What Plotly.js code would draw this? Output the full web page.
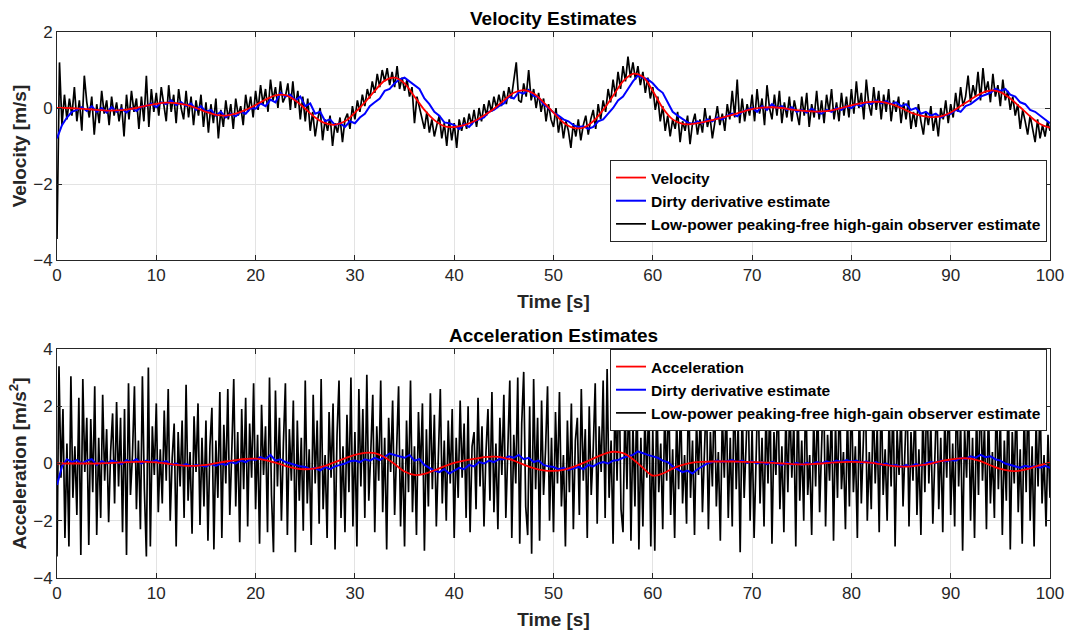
<!DOCTYPE html>
<html>
<head>
<meta charset="utf-8">
<script src="https://cdn.plot.ly/plotly-3.0.1.min.js"></script>
<style>html,body{margin:0;padding:0;background:#fff;}#chart{width:1070px;height:635px;}</style>
</head>
<body>
<div id="chart"></div>
<script>
// ---------- DATA ----------
// time steps (s)
const tStart = 0, tEnd = 100;
const dtRed = 1.0, dtBlue = 0.5, dtBlackVel = 0.25, dtBlackAcc = 0.2;

// true velocity (red), every 1 s
const velocityTrue = [0,0,-0.01,-0.03,-0.05,-0.07,-0.06,-0.04,0.0,0.06,0.11,0.14,0.13,0.08,0.0,-0.1,-0.18,-0.2,-0.15,-0.05,
  0.08,0.22,0.33,0.34,0.2,-0.02,-0.25,-0.4,-0.44,-0.35,-0.12,0.15,0.45,0.72,0.8,0.65,0.3,-0.05,-0.32,-0.48,
  -0.5,-0.45,-0.35,-0.2,-0.02,0.2,0.4,0.47,0.38,0.15,-0.12,-0.38,-0.52,-0.52,-0.35,-0.05,0.32,0.7,0.9,0.82,
  0.45,0.0,-0.3,-0.42,-0.42,-0.38,-0.32,-0.25,-0.18,-0.1,-0.03,0.01,0.02,0.0,-0.04,-0.07,-0.09,-0.09,-0.06,0.0,
  0.07,0.13,0.16,0.16,0.1,0.0,-0.12,-0.2,-0.24,-0.22,-0.12,0.05,0.22,0.38,0.46,0.42,0.25,0.02,-0.22,-0.42,-0.52];

// dirty derivative velocity estimate (blue), every 0.5 s
const velocityDirty = [
  -0.8,-0.45,-0.25,-0.1,-0.05,0.02,-0.08,0.05,-0.1,0.0,
  -0.12,0.02,-0.1,-0.02,-0.12,0.0,-0.08,0.04,0.05,0.12,
  0.02,0.15,0.1,0.2,0.08,0.15,0.05,0.12,-0.05,0.05,
  -0.1,-0.05,-0.2,-0.1,-0.25,-0.15,-0.22,-0.1,-0.15,0.0,
  -0.02,0.12,0.05,0.22,0.15,0.4,0.3,0.35,0.2,0.3,
  0.05,0.12,-0.15,-0.1,-0.35,-0.3,-0.45,-0.4,-0.5,-0.35,
  -0.4,-0.25,-0.15,0.05,0.15,0.25,0.45,0.5,0.65,0.75,
  0.8,0.7,0.6,0.5,0.25,0.1,-0.1,-0.2,-0.38,-0.4,
  -0.45,-0.55,-0.42,-0.5,-0.35,-0.3,-0.25,-0.1,-0.05,0.05,
  0.12,0.3,0.25,0.42,0.38,0.48,0.32,0.28,0.1,0.0,
  -0.12,-0.2,-0.3,-0.35,-0.45,-0.5,-0.48,-0.55,-0.5,-0.35,
  -0.3,-0.15,0.0,0.2,0.3,0.5,0.7,0.85,0.8,0.75,
  0.65,0.5,0.4,0.15,-0.1,-0.2,-0.3,-0.38,-0.42,-0.35,
  -0.4,-0.3,-0.35,-0.25,-0.3,-0.2,-0.15,-0.22,-0.1,-0.05,
  0.0,-0.1,0.05,-0.05,0.1,0.0,0.05,-0.05,0.02,-0.1,
  -0.05,-0.12,-0.02,-0.1,-0.15,-0.05,-0.1,0.0,-0.05,0.05,
  0.0,0.1,0.05,0.15,0.1,0.2,0.12,0.18,0.1,0.15,
  0.05,0.1,-0.05,0.0,-0.15,-0.1,-0.2,-0.15,-0.25,-0.18,
  -0.15,-0.05,-0.1,0.05,0.1,0.2,0.3,0.35,0.4,0.5,
  0.45,0.5,0.35,0.3,0.15,0.1,-0.05,-0.1,-0.2,-0.3,
  -0.4];

// high-gain observer velocity estimate (black), every 0.25 s
const velocityHGO = [
  -3.45,1.2,-0.45,0.35,-0.3,0.25,-0.2,0.55,-0.35,0.2,-0.6,0.85,0.15,-0.25,0.3,-0.7,0.1,-0.4,0.45,-0.15,
  0.2,-0.45,0.3,-0.2,0.15,-0.35,0.1,-0.75,0.35,-0.3,0.45,-0.1,0.25,-0.55,0.3,-0.35,0.85,-0.5,0.5,-0.1,
  0.4,-0.2,0.55,0.05,-0.35,0.6,-0.1,0.35,-0.4,0.5,0.0,-0.3,0.45,-0.25,0.3,-0.45,0.2,-0.2,0.35,-0.5,
  0.15,-0.65,0.1,-0.4,0.25,-0.8,-0.05,-0.5,0.2,-0.3,0.1,-0.55,0.25,-0.2,0.05,-0.45,0.35,-0.1,0.3,-0.25,
  0.45,-0.05,0.6,0.1,0.5,-0.1,0.75,0.2,0.55,0.0,0.7,0.15,0.3,0.65,-0.05,0.7,0.0,0.45,-0.3,0.3,
  -0.35,0.25,-0.6,-0.1,-0.75,-0.3,0.0,-0.85,-0.3,-0.6,-0.2,-1.0,-0.4,-0.65,-0.25,-0.9,-0.3,-0.15,-0.55,0.05,
  -0.3,0.2,-0.1,0.35,0.05,0.5,0.25,0.7,0.4,0.9,0.55,1.0,0.7,1.05,0.6,0.95,0.55,1.1,0.5,0.8,
  0.45,0.75,0.3,0.55,-0.4,0.3,0.0,-0.25,-0.55,-0.1,-0.65,-0.3,-0.75,-0.45,-0.2,-0.8,-0.4,-1.0,-0.3,-0.85,
  -0.4,-1.05,-0.3,-0.6,-0.25,-0.55,-0.15,-0.45,-0.05,-0.5,0.0,-0.35,0.1,-0.2,0.2,-0.1,0.3,0.0,0.35,0.05,
  0.45,0.1,0.55,0.25,0.7,1.2,0.2,0.15,0.65,0.3,1.0,0.2,0.5,0.0,0.4,-0.1,0.25,-0.35,0.1,-0.3,
  -0.5,0.0,-0.65,-0.25,-0.8,-0.35,-0.6,-1.05,-0.4,-0.75,-0.3,-0.85,-0.45,-0.2,-0.7,-0.3,-0.05,-0.55,0.1,-0.3,
  0.2,-0.1,0.5,0.15,0.75,0.3,0.95,0.5,1.1,0.7,1.35,0.8,1.2,0.75,1.1,0.6,0.95,0.4,0.8,0.25,
  0.55,-0.05,0.3,-0.35,0.05,-0.6,-0.2,-0.75,-0.3,-0.55,-0.1,-0.9,-0.35,-0.6,-0.2,-0.95,-0.4,-0.15,-0.7,-0.3,
  -0.65,0.0,-0.5,-0.2,-0.8,-0.35,0.05,-0.45,-0.15,-0.6,0.1,-0.3,0.45,-0.25,0.75,-0.4,0.25,-0.35,0.1,-0.2,
  0.35,-0.35,0.5,-0.15,0.25,-0.45,0.6,0.0,-0.3,0.35,-0.2,0.45,-0.4,0.15,-0.25,0.3,-0.35,0.2,-0.1,-0.45,
  0.3,-0.2,0.4,-0.5,0.1,-0.25,0.45,-0.3,0.2,-0.4,0.35,-0.1,0.5,-0.3,0.15,-0.35,0.4,-0.2,0.3,-0.25,
  0.5,-0.15,0.7,0.0,0.4,-0.3,0.75,0.1,-0.2,0.55,-0.05,0.45,-0.3,0.35,-0.1,0.5,-0.35,0.2,-0.1,0.3,
  -0.4,0.15,-0.3,0.2,-0.55,-0.1,-0.5,0.1,-0.35,-0.7,-0.1,-0.45,0.05,-0.6,-0.2,-0.75,0.0,-0.3,0.2,-0.4,
  0.1,-0.25,0.4,-0.1,0.55,0.05,0.3,0.85,0.15,0.6,0.3,0.95,0.2,1.05,0.4,0.7,0.15,0.9,0.3,0.6,
  0.05,0.75,0.2,0.45,-0.05,0.3,-0.2,0.1,-0.55,-0.05,-0.35,-0.7,-0.2,-0.55,-0.9,-0.3,-0.8,-0.45,-0.75,-0.35,
  -0.6];

// true acceleration (red), every 1 s
const accelTrue = [0,0,0,0,0,0.01,0.03,0.05,0.06,0.06,0.04,0.0,-0.05,-0.08,-0.08,-0.05,0.01,0.07,0.12,0.16,
  0.17,0.12,0.03,-0.08,-0.17,-0.2,-0.17,-0.08,0.05,0.18,0.3,0.37,0.36,0.22,-0.02,-0.28,-0.4,-0.36,-0.24,-0.1,
  0.02,0.1,0.16,0.22,0.24,0.2,0.1,-0.04,-0.16,-0.24,-0.26,-0.22,-0.12,0.02,0.17,0.32,0.41,0.36,0.15,-0.15,
  -0.42,-0.35,-0.18,-0.05,0.03,0.06,0.07,0.07,0.07,0.06,0.05,0.04,0.02,0.0,-0.02,-0.03,-0.02,0.0,0.03,0.05,
  0.06,0.05,0.02,-0.03,-0.08,-0.11,-0.1,-0.06,0.0,0.08,0.14,0.18,0.17,0.08,-0.06,-0.19,-0.26,-0.25,-0.17,-0.06,0.03];

// dirty derivative acceleration estimate (blue), every 0.5 s
const accelDirty = [
  -0.75,-0.1,0.15,0.05,0.12,0.0,0.1,0.15,-0.05,0.08,
  0.0,0.1,0.05,-0.02,0.12,0.05,0.15,0.0,0.1,0.05,
  0.12,0.02,0.08,-0.05,0.0,-0.08,-0.02,-0.1,-0.05,-0.08,
  -0.1,-0.02,-0.08,0.0,-0.05,0.05,0.0,0.1,0.05,0.15,
  0.12,0.22,0.15,0.3,0.1,0.15,0.05,0.0,-0.05,-0.1,
  -0.12,-0.2,-0.15,-0.25,-0.12,-0.2,-0.1,-0.05,0.0,0.08,
  0.1,0.05,0.15,0.1,0.2,0.12,0.25,0.35,0.3,0.25,
  0.2,0.3,0.1,0.15,-0.05,-0.15,-0.25,-0.3,-0.2,-0.35,
  -0.25,-0.15,-0.2,-0.05,-0.1,0.05,0.0,0.1,0.05,0.15,
  0.15,0.25,0.2,0.3,0.15,0.2,0.05,0.1,-0.05,-0.1,
  -0.12,-0.2,-0.15,-0.22,-0.18,-0.12,-0.2,-0.05,-0.1,0.0,
  0.05,0.0,0.1,0.12,0.2,0.25,0.3,0.42,0.35,0.3,
  0.25,0.2,0.1,0.05,-0.1,-0.2,-0.3,-0.25,-0.35,-0.2,
  -0.1,0.0,0.05,0.1,0.05,0.08,0.12,0.05,0.1,0.02,
  0.08,0.0,0.05,-0.02,0.06,0.0,-0.05,0.03,-0.04,0.02,
  -0.05,0.02,-0.03,0.05,0.0,0.08,0.02,0.1,0.05,0.12,
  0.06,0.1,0.02,0.08,0.0,0.05,-0.05,0.0,-0.08,-0.05,
  -0.12,-0.05,-0.1,-0.02,-0.08,0.0,0.05,0.02,0.1,0.08,
  0.12,0.1,0.2,0.15,0.25,0.2,0.3,0.22,0.25,0.15,
  0.1,0.0,-0.05,-0.1,-0.15,-0.08,-0.12,-0.1,-0.15,-0.08,
  -0.15];

// high-gain observer acceleration estimate (black), every 0.2 s
const accelHGO = [
  -3.25,3.4,-0.5,1.9,-2.6,0.7,-2.9,3.05,-1.2,0.6,-1.8,2.3,-3.2,2.95,-0.3,1.6,-2.85,1.55,-1.0,2.7,-2.5,0.9,-1.9,2.4,-0.6,
  1.2,-2.05,0.4,1.75,-1.4,2.15,-0.8,1.6,-2.4,1.9,-3.2,2.8,-1.1,0.3,2.7,-1.6,0.8,-2.3,3.05,-0.9,-3.25,3.35,-2.9,1.3,-0.4,
  2.1,-1.7,0.5,-1.4,1.85,-0.6,2.6,-2.0,0.2,1.4,-2.9,1.1,-0.8,1.5,-1.9,2.75,-1.3,0.4,-2.45,1.65,-0.3,2.1,-2.15,0.9,-1.5,
  1.5,-2.7,0.6,1.95,-3.0,0.8,-1.2,2.5,-2.6,1.35,-0.7,2.6,-1.8,0.4,2.95,-1.5,1.1,-2.75,1.9,-0.9,2.3,-2.2,1.4,-0.5,2.8,
  -1.6,1.0,-2.8,2.05,-0.4,1.3,-2.4,3.0,-1.1,-3.1,2.55,-0.8,1.6,-2.0,0.7,2.8,-2.5,1.2,-0.6,2.2,-3.1,1.5,-1.3,0.9,-2.35,
  2.9,-1.4,0.5,-2.85,2.4,-0.7,1.5,-2.1,2.95,-1.6,0.3,-2.6,1.8,-0.5,2.1,-3.0,1.0,2.9,-1.9,0.6,-2.4,1.7,-1.0,3.0,-2.2,
  1.1,-2.9,2.6,-0.8,1.9,-1.9,3.1,-1.3,0.4,2.4,-2.4,1.3,-0.6,2.9,-1.7,0.9,-3.0,1.6,-0.3,2.2,-1.8,0.8,2.7,-2.2,0.5,
  -2.9,1.5,-1.0,2.9,-1.7,0.6,-2.5,1.8,-0.4,2.1,-3.05,1.2,-1.5,2.45,-0.9,1.7,-2.2,0.3,2.6,-1.4,0.8,-2.0,1.5,-0.7,1.9,
  -2.6,0.9,-1.2,2.2,-0.5,1.4,-1.9,2.0,-2.4,0.6,1.1,-1.6,2.3,-0.8,1.3,-2.2,0.4,1.9,-1.3,2.5,-1.7,0.7,-2.3,1.6,-0.4,
  2.4,-1.9,0.6,2.9,-2.6,1.0,-0.7,3.0,-2.8,1.4,3.2,-1.5,-2.5,2.0,-3.15,2.95,-0.9,1.6,-2.7,2.2,-1.1,0.5,2.7,-2.0,0.9,
  -2.4,1.8,-0.7,2.5,-1.5,0.3,-2.9,1.5,-1.0,2.1,-2.3,0.8,1.6,-1.8,2.6,-0.6,1.2,-2.6,2.0,-1.1,0.5,2.8,-2.1,1.3,-0.3,
  2.9,-1.9,3.3,-1.2,0.8,-2.8,2.7,-0.6,3.2,-1.6,-2.4,2.1,-0.9,3.0,-2.7,1.4,-1.5,2.6,-3.0,0.9,-2.2,1.7,-0.5,2.3,-2.9,
  1.2,-3.05,2.4,-1.0,0.7,-2.3,1.9,-0.6,2.7,-1.8,0.5,-2.6,1.6,-0.9,2.2,-1.4,0.3,-2.1,2.9,-1.2,0.8,-2.5,1.5,-0.4,2.0,
  -1.7,0.6,2.5,-2.3,1.1,-0.8,2.8,-1.5,0.4,-2.7,1.7,-0.5,2.3,-1.9,0.9,-2.2,3.0,-0.9,1.4,-3.1,2.1,-1.2,0.6,2.6,-2.0,
  1.3,-2.6,0.5,2.9,-1.4,0.9,-2.2,1.9,-0.7,2.4,-2.8,1.1,-0.4,2.7,-1.6,0.6,-2.4,1.8,-1.0,2.2,-0.5,1.5,-2.9,2.5,-1.3,
  0.8,-2.0,2.8,-1.1,0.3,-2.5,1.6,-0.8,2.3,-1.7,0.7,2.9,-2.2,1.0,-0.6,2.0,-2.7,1.4,-1.2,2.6,-0.9,0.4,-2.3,1.8,-1.5,
  2.7,-1.0,0.6,-2.6,2.1,-1.4,0.9,2.9,-2.0,0.4,-1.6,2.4,-0.7,1.3,-2.4,2.8,-1.1,0.5,-2.0,1.7,-0.8,2.5,-2.9,1.2,-0.4,
  2.0,-1.5,0.8,2.6,-2.2,1.1,-0.6,2.3,-1.8,0.5,-2.5,1.9,-1.0,2.8,-0.7,1.4,-2.1,0.6,2.4,-1.6,0.9,-2.4,1.6,-0.5,2.7,
  -1.8,0.7,-2.2,3.0,-0.8,1.5,-3.05,1.2,-0.5,2.5,-2.0,0.9,-2.6,1.8,-1.1,2.9,-0.6,1.3,-2.3,2.1,-1.4,0.4,-1.9,2.6,-0.9,
  1.6,-2.5,0.8,-1.3,2.7,-3.0,1.1,-0.7,2.4,-1.7,0.5,-2.8,1.9,-1.0,2.8,-2.0,0.6,-2.9,1.5,-0.8,2.3,-1.4,0.3,-2.2,1.0,
  -1.2];

const seriesNames = ['Velocity','Dirty derivative estimate','Low-power peaking-free high-gain observer estimate'];
const seriesNames2 = ['Acceleration','Dirty derivative estimate','Low-power peaking-free high-gain observer estimate'];
const xTicks = [0,10,20,30,40,50,60,70,80,90,100];

// ---------- helpers ----------
function timeGrid(n, dt){ const a=[]; for(let i=0;i<n;i++) a.push(+(tStart+i*dt).toFixed(4)); return a; }

const FONT = 'Liberation Sans, Arial, Helvetica, sans-serif';
const INK = '#262626';

const traces = [
  {x: timeGrid(velocityHGO.length, dtBlackVel), y: velocityHGO, name: seriesNames[2], type:'scatter', mode:'lines',
   line:{color:'#000000', width:1.7}, xaxis:'x', yaxis:'y', legend:'legend', legendrank:3},
  {x: timeGrid(velocityDirty.length, dtBlue), y: velocityDirty, name: seriesNames[1], type:'scatter', mode:'lines',
   line:{color:'#0000ff', width:2}, xaxis:'x', yaxis:'y', legend:'legend', legendrank:2},
  {x: timeGrid(velocityTrue.length, dtRed), y: velocityTrue, name: seriesNames[0], type:'scatter', mode:'lines', line:{color:'#ff0000', width:1.8, shape:'spline'},
   xaxis:'x', yaxis:'y', legend:'legend', legendrank:1},
  {x: timeGrid(accelHGO.length, dtBlackAcc), y: accelHGO, name: seriesNames2[2], type:'scatter', mode:'lines',
   line:{color:'#000000', width:1.7}, xaxis:'x2', yaxis:'y2', legend:'legend2', legendrank:3},
  {x: timeGrid(accelDirty.length, dtBlue), y: accelDirty, name: seriesNames2[1], type:'scatter', mode:'lines',
   line:{color:'#0000ff', width:2}, xaxis:'x2', yaxis:'y2', legend:'legend2', legendrank:2},
  {x: timeGrid(accelTrue.length, dtRed), y: accelTrue, name: seriesNames2[0], type:'scatter', mode:'lines', line:{color:'#ff0000', width:1.8, shape:'spline'},
   xaxis:'x2', yaxis:'y2', legend:'legend2', legendrank:1}
];

function xAxis(anchor){
  return {anchor: anchor, domain:[0,1], range:[tStart,tEnd], tickvals:xTicks, ticks:'inside', ticklen:5, tickcolor:INK,
    showline:true, linecolor:INK, linewidth:1, mirror:'ticks', showgrid:true, gridcolor:'#e3e3e3', zeroline:false,
    tickfont:{family:FONT, size:17, color:INK},
    title:{text:'Time [s]', font:{family:FONT, size:19, color:INK, weight:'bold'}, standoff:10}};
}
function yAxis(anchor, domain, range, ttl){
  return {anchor: anchor, domain:domain, range:range, dtick:2, ticks:'inside', ticklen:5, tickcolor:INK,
    showline:true, linecolor:INK, linewidth:1, mirror:'ticks', showgrid:true, gridcolor:'#e3e3e3', zeroline:false,
    tickfont:{family:FONT, size:17, color:INK},
    title:{text:ttl, font:{family:FONT, size:19, color:INK, weight:'bold'}, standoff:1}};
}
const legendCommon = {xref:'paper', yref:'paper', x:0.997, xanchor:'right', yanchor:'top', bgcolor:'#ffffff',
  bordercolor:INK, borderwidth:1, font:{family:FONT, size:15.5, color:'#000', weight:'bold'}, tracegroupgap:0, itemwidth:30};

const layout = {
  width:1070, height:635, paper_bgcolor:'#ffffff', plot_bgcolor:'#ffffff',
  margin:{l:57, r:20, t:32, b:57},
  font:{family:FONT, color:INK},
  showlegend:true,
  xaxis: xAxis('y'),
  yaxis: yAxis('x', [0.5824,1], [-4,2], 'Velocity [m/s]'),
  xaxis2: xAxis('y2'),
  yaxis2: yAxis('x2', [0,0.4194], [-4,4], 'Acceleration [m/s<sup>2</sup>]'),
  legend: Object.assign({}, legendCommon, {y:0.7656}),
  legend2: Object.assign({}, legendCommon, {y:0.4194}),
  annotations:[
    {text:'Velocity Estimates', xref:'paper', yref:'paper', x:0.5, y:1, yanchor:'bottom', showarrow:false, yshift:1,
     font:{family:FONT, size:19, color:'#000', weight:'bold'}},
    {text:'Acceleration Estimates', xref:'paper', yref:'paper', x:0.5, y:0.4194, yanchor:'bottom', showarrow:false, yshift:1,
     font:{family:FONT, size:19, color:'#000', weight:'bold'}}
  ]
};

Plotly.newPlot('chart', traces, layout, {displayModeBar:false, staticPlot:true});
</script>
</body>
</html>
